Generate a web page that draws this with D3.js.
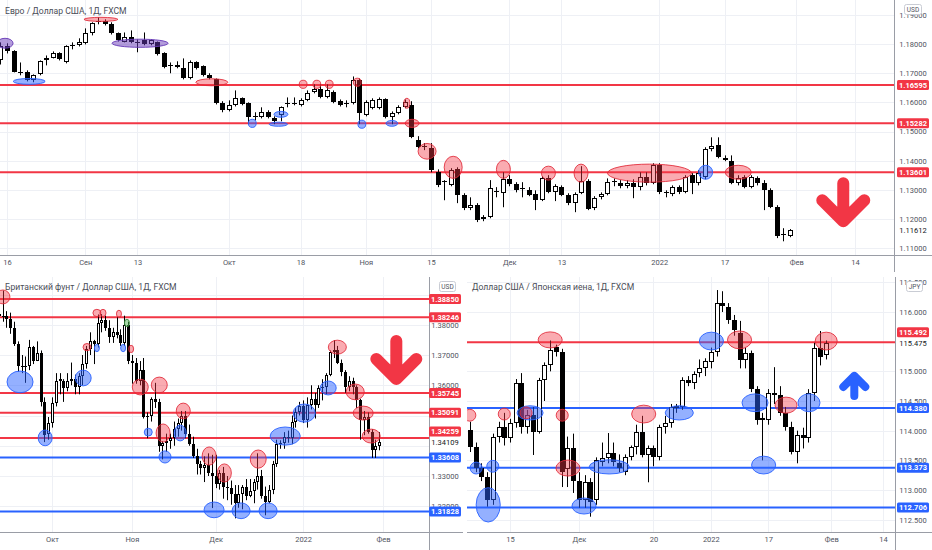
<!DOCTYPE html>
<html><head><meta charset="utf-8">
<script src="https://cdn.jsdelivr.net/npm/d3@7"></script>
<style>
html,body{margin:0;padding:0;background:#fff;}
svg{display:block;font-family:Roboto,"Noto Sans",sans-serif;}
</style></head><body>
<svg id="c" width="932" height="550"></svg>
<script>
// ================= DATA =================
const eurTitle = "Евро / Доллар США, 1Д, FXCM";
const gbpTitle = "Британский фунт / Доллар США, 1Д, FXCM";
const jpyTitle = "Доллар США / Японская иена, 1Д, FXCM";

// daily candles [open, high, low, close], one per trading day from the start date
const eurStart = "2021-08-13";
const eurOHLC = [
[1.1744,1.1806,1.1730,1.1792],[1.1792,1.1803,1.1768,1.1775],[1.1775,1.1779,1.1703,1.1706],[1.1706,1.1737,1.1693,1.1703],
[1.1703,1.1710,1.1672,1.1676],[1.1676,1.1696,1.1669,1.1693],[1.1696,1.1744,1.1693,1.1741],[1.1744,1.1761,1.1727,1.1751],
[1.1754,1.1775,1.1751,1.1768],[1.1768,1.1772,1.1744,1.1748],[1.1737,1.1796,1.1734,1.1792],[1.1792,1.1806,1.1782,1.1796],
[1.1796,1.1820,1.1792,1.1806],[1.1803,1.1854,1.1799,1.1837],[1.1837,1.1875,1.1830,1.1871],[1.1875,1.1892,1.1868,1.1878],
[1.1878,1.1885,1.1864,1.1868],[1.1868,1.1875,1.1833,1.1837],[1.1837,1.1840,1.1809,1.1813],[1.1809,1.1840,1.1806,1.1823],
[1.1823,1.1847,1.1803,1.1806],[1.1806,1.1816,1.1772,1.1809],[1.1813,1.1840,1.1796,1.1799],[1.1799,1.1816,1.1796,1.1813],
[1.1806,1.1809,1.1761,1.1765],[1.1768,1.1772,1.1717,1.1720],[1.1727,1.1737,1.1700,1.1724],[1.1727,1.1741,1.1717,1.1720],
[1.1717,1.1751,1.1679,1.1682],[1.1682,1.1744,1.1679,1.1737],[1.1737,1.1741,1.1713,1.1717],[1.1724,1.1727,1.1689,1.1693],
[1.1693,1.1700,1.1679,1.1682],[1.1679,1.1682,1.1593,1.1597],[1.1597,1.1604,1.1566,1.1573],[1.1573,1.1607,1.1569,1.1590],
[1.1590,1.1641,1.1586,1.1614],[1.1614,1.1617,1.1590,1.1593],[1.1597,1.1600,1.1528,1.1549],[1.1549,1.1566,1.1538,1.1552],
[1.1549,1.1583,1.1545,1.1566],[1.1566,1.1573,1.1545,1.1549],[1.1545,1.1552,1.1525,1.1535],[1.1556,1.1586,1.1535,1.1583],
[1.1597,1.1617,1.1583,1.1593],[1.1593,1.1617,1.1590,1.1597],[1.1590,1.1614,1.1586,1.1607],[1.1607,1.1641,1.1604,1.1631],
[1.1634,1.1662,1.1631,1.1645],[1.1645,1.1662,1.1614,1.1617],[1.1617,1.1662,1.1614,1.1641],[1.1634,1.1641,1.1597,1.1600],
[1.1604,1.1610,1.1586,1.1590],[1.1597,1.1607,1.1583,1.1593],[1.1597,1.1689,1.1593,1.1676],[1.1676,1.1682,1.1525,1.1562],
[1.1556,1.1607,1.1552,1.1600],[1.1580,1.1614,1.1576,1.1607],[1.1580,1.1617,1.1576,1.1610],[1.1610,1.1614,1.1545,1.1549],
[1.1549,1.1569,1.1525,1.1562],[1.1562,1.1590,1.1559,1.1583],[1.1583,1.1610,1.1580,1.1600],[1.1590,1.1604,1.1477,1.1480],
[1.1470,1.1484,1.1442,1.1446],[1.1446,1.1460,1.1436,1.1449],[1.1442,1.1460,1.1360,1.1367],[1.1360,1.1370,1.1309,1.1315],
[1.1326,1.1333,1.1264,1.1329],[1.1315,1.1374,1.1312,1.1367],[1.1370,1.1377,1.1254,1.1281],[1.1281,1.1288,1.1230,1.1237],
[1.1237,1.1274,1.1230,1.1247],[1.1247,1.1254,1.1189,1.1195],[1.1199,1.1213,1.1192,1.1206],[1.1206,1.1333,1.1202,1.1305],
[1.1291,1.1309,1.1274,1.1295],[1.1288,1.1360,1.1240,1.1336],[1.1336,1.1350,1.1312,1.1319],[1.1319,1.1326,1.1291,1.1298],
[1.1302,1.1326,1.1274,1.1305],[1.1298,1.1309,1.1278,1.1281],[1.1285,1.1298,1.1230,1.1264],[1.1264,1.1346,1.1261,1.1339],
[1.1339,1.1350,1.1288,1.1291],[1.1291,1.1319,1.1261,1.1312],[1.1309,1.1315,1.1278,1.1281],[1.1281,1.1288,1.1247,1.1254],
[1.1254,1.1291,1.1223,1.1285],[1.1288,1.1381,1.1285,1.1329],[1.1329,1.1336,1.1230,1.1233],[1.1237,1.1278,1.1230,1.1271],
[1.1274,1.1291,1.1267,1.1285],[1.1285,1.1339,1.1281,1.1326],[1.1326,1.1339,1.1312,1.1329],[1.1322,1.1333,1.1305,1.1312],
[1.1312,1.1333,1.1305,1.1322],[1.1322,1.1336,1.1271,1.1309],[1.1309,1.1360,1.1298,1.1343],[1.1343,1.1360,1.1315,1.1322],
[1.1322,1.1391,1.1319,1.1384],[1.1384,1.1391,1.1285,1.1291],[1.1291,1.1298,1.1274,1.1288],[1.1285,1.1315,1.1278,1.1309],
[1.1309,1.1315,1.1285,1.1291],[1.1291,1.1350,1.1288,1.1343],[1.1350,1.1357,1.1285,1.1322],[1.1322,1.1367,1.1315,1.1357],
[1.1343,1.1446,1.1336,1.1439],[1.1439,1.1480,1.1432,1.1449],[1.1453,1.1480,1.1408,1.1411],[1.1408,1.1418,1.1398,1.1401],
[1.1398,1.1418,1.1319,1.1322],[1.1322,1.1350,1.1315,1.1339],[1.1343,1.1350,1.1305,1.1309],[1.1309,1.1350,1.1305,1.1343],
[1.1339,1.1346,1.1315,1.1322],[1.1322,1.1333,1.1230,1.1298],[1.1298,1.1305,1.1237,1.1240],[1.1240,1.1247,1.1134,1.1140],
[1.1144,1.1168,1.1123,1.1147],[1.1140,1.1165,1.1137,1.11612]
];

const gbpStart = "2021-09-13";
const gbpOHLC = [
[1.3835,1.3850,1.3790,1.3830],[1.3830,1.3913,1.3810,1.3830],[1.3830,1.3845,1.3790,1.3820],[1.3820,1.3840,1.3770,1.3790],
[1.3790,1.3810,1.3730,1.3735],[1.3735,1.3745,1.3645,1.3665],[1.3665,1.3700,1.3640,1.3660],[1.3660,1.3695,1.3608,1.3665],
[1.3665,1.3750,1.3650,1.3725],[1.3725,1.3730,1.3670,1.3680],[1.3680,1.3745,1.3680,1.3705],[1.3705,1.3715,1.3530,1.3545],
[1.3545,1.3560,1.3412,1.3435],[1.3440,1.3495,1.3420,1.3475],
[1.3475,1.3560,1.3460,1.3540],[1.3540,1.3640,1.3530,1.3615],[1.3615,1.3640,1.3570,1.3620],[1.3615,1.3620,1.3545,1.3590],
[1.3590,1.3640,1.3580,1.3615],[1.3615,1.3675,1.3600,1.3620],[1.3620,1.3635,1.3570,1.3595],[1.3595,1.3640,1.3570,1.3630],
[1.3630,1.3700,1.3600,1.3670],[1.3670,1.3730,1.3655,1.3720],[1.3720,1.3775,1.3700,1.3745],[1.3745,1.3750,1.3670,1.3735],
[1.3735,1.3834,1.3725,1.3805],[1.3805,1.3835,1.3775,1.3815],[1.3815,1.3830,1.3780,1.3790],[1.3790,1.3815,1.3740,1.3760],
[1.3760,1.3790,1.3740,1.3775],[1.3775,1.3825,1.3755,1.3765],[1.3765,1.3785,1.3730,1.3740],[1.3740,1.3830,1.3730,1.3800],
[1.3800,1.3810,1.3670,1.3680],
[1.3680,1.3700,1.3605,1.3675],[1.3675,1.3690,1.3605,1.3615],[1.3615,1.3680,1.3600,1.3650],[1.3650,1.3690,1.3490,1.3495],
[1.3495,1.3510,1.3425,1.3500],[1.3500,1.3560,1.3480,1.3555],[1.3555,1.3608,1.3525,1.3545],[1.3545,1.3555,1.3380,1.3400],
[1.3400,1.3415,1.3355,1.3410],[1.3410,1.3440,1.3380,1.3415],[1.3415,1.3440,1.3390,1.3425],[1.3425,1.3480,1.3400,1.3455],
[1.3455,1.3490,1.3430,1.3475],[1.3475,1.3515,1.3450,1.3500],[1.3500,1.3515,1.3425,1.3440],[1.3440,1.3470,1.3400,1.3405],
[1.3405,1.3430,1.3360,1.3365],[1.3365,1.3390,1.3305,1.3340],[1.3340,1.3350,1.3305,1.3325],[1.3325,1.3365,1.3280,1.3335],
[1.3335,1.3375,1.3300,1.3310],[1.3310,1.3370,1.3194,1.3300],
[1.3300,1.3370,1.3260,1.3275],[1.3275,1.3320,1.3255,1.3310],[1.3310,1.3330,1.3225,1.3265],[1.3265,1.3300,1.3220,1.3260],
[1.3260,1.3285,1.3205,1.3240],[1.3240,1.3270,1.3160,1.3210],[1.3210,1.3270,1.3195,1.3240],[1.3240,1.3270,1.3190,1.3265],
[1.3265,1.3290,1.3220,1.3235],[1.3235,1.3290,1.3230,1.3250],[1.3250,1.3290,1.3210,1.3280],[1.3280,1.3375,1.3255,1.3300],
[1.3300,1.3320,1.3225,1.3235],[1.3235,1.3265,1.3170,1.3215],[1.3215,1.3270,1.3210,1.3255],[1.3255,1.3350,1.3240,1.3340],
[1.3340,1.3420,1.3330,1.3405],[1.3405,1.3418,1.3390,1.3410],[1.3410,1.3445,1.3390,1.3430],[1.3430,1.3450,1.3410,1.3425],
[1.3425,1.3500,1.3405,1.3480],[1.3480,1.3525,1.3460,1.3510],[1.3510,1.3545,1.3500,1.3530],
[1.3530,1.3550,1.3475,1.3485],[1.3485,1.3560,1.3460,1.3535],[1.3535,1.3600,1.3520,1.3555],[1.3555,1.3575,1.3490,1.3535],
[1.3535,1.3600,1.3525,1.3590],[1.3590,1.3620,1.3550,1.3595],[1.3595,1.3640,1.3570,1.3635],[1.3635,1.3715,1.3630,1.3710],
[1.3710,1.3749,1.3690,1.3715],[1.3715,1.3730,1.3670,1.3675],[1.3675,1.3685,1.3630,1.3645],[1.3645,1.3650,1.3575,1.3595],
[1.3595,1.3630,1.3580,1.3615],[1.3615,1.3625,1.3570,1.3595],[1.3595,1.3600,1.3525,1.3550],[1.3550,1.3555,1.3420,1.3485],
[1.3485,1.3515,1.3435,1.3495],[1.3495,1.3510,1.3440,1.3445],[1.3445,1.3455,1.3360,1.3385],[1.3385,1.3420,1.3360,1.3400],
[1.3400,1.3445,1.3385,1.34109]
];

const jpyStart = "2021-11-04";
const jpyOHLC = [
[114.01,114.15,113.64,113.72],[113.72,113.80,113.30,113.37],[113.37,113.45,113.15,113.22],[113.22,113.30,112.72,112.83],
[112.83,113.95,112.75,113.89],[113.89,114.15,113.80,114.06],[114.06,114.30,113.75,113.88],[113.88,114.20,113.80,114.13],
[114.13,114.87,114.05,114.80],[114.80,114.97,113.95,114.06],[114.06,114.35,113.95,114.26],[114.26,114.40,113.59,113.98],
[113.98,114.89,113.95,114.85],[114.85,115.15,114.50,115.10],[115.10,115.52,115.00,115.36],[115.41,115.45,115.25,115.33],
[115.33,115.38,113.05,113.30],[113.35,113.90,113.05,113.70],[113.70,113.95,112.95,113.15],
[113.15,113.30,112.70,112.83],[112.83,113.25,112.70,113.13],[113.13,113.20,112.55,112.80],[112.83,113.55,112.75,113.50],
[113.47,113.80,113.40,113.54],[113.54,113.96,113.45,113.62],[113.62,113.80,113.40,113.47],[113.45,113.60,113.30,113.37],
[113.30,113.60,113.25,113.55],[113.55,113.75,113.50,113.72],[113.72,114.10,113.60,113.98],[113.98,114.25,113.55,113.59],
[113.59,113.75,113.13,113.71],[113.71,113.75,113.40,113.55],[113.55,114.10,113.50,114.06],[114.06,114.25,113.95,114.13],
[114.13,114.45,114.05,114.40],[114.38,114.45,114.30,114.42],[114.40,114.90,114.35,114.85],[114.85,114.92,114.75,114.80],
[114.80,115.00,114.70,114.95],[114.98,115.20,114.90,115.05],[115.05,115.22,114.92,115.18],
[115.15,115.40,115.05,115.33],[115.33,116.37,115.25,116.15],[116.15,116.35,116.00,116.10],[116.08,116.15,115.80,115.87],
[115.87,115.95,115.60,115.70],[115.65,115.85,115.05,115.19],[115.19,115.40,115.05,115.31],[115.31,115.35,114.65,114.70],
[114.70,114.75,114.10,114.18],[114.18,114.30,113.50,114.22],[114.18,114.70,114.10,114.63],[114.63,115.07,114.45,114.60],
[114.60,114.75,114.25,114.30],[114.30,114.40,114.00,114.06],[114.06,114.15,113.60,113.64],[113.64,114.00,113.45,113.93],
[113.93,114.05,113.70,113.88],[113.88,114.70,113.80,114.63],[114.63,115.48,114.50,115.39],[115.39,115.68,115.10,115.24],
[115.27,115.52,115.20,115.475]
];

// horizontal levels
const eurResistance = [1.16595, 1.15282, 1.13601];
const eurSupport = [];
const gbpResistance = [1.38850, 1.38246, 1.35745, 1.35091, 1.34259];
const gbpSupport = [1.33608, 1.31828];
const jpyResistance = [115.492];
const jpySupport = [114.380, 113.373, 112.706];

// price-axis tick labels
const eurPriceTicks = [1.11, 1.12, 1.13, 1.14, 1.15, 1.16, 1.17, 1.18, 1.19];
const gbpPriceTicks = [1.32, 1.33, 1.34, 1.35, 1.36, 1.37, 1.38, 1.39];
const jpyPriceTicks = [112.5, 113, 113.5, 114, 114.5, 115, 115.5, 116, 116.5];

// time-axis tick labels
const eurTimeTicks = [["2021-08-16","16"],["2021-09-01","Сен"],["2021-09-13","13"],["2021-10-01","Окт"],["2021-10-18","18"],
  ["2021-11-01","Ноя"],["2021-11-15","15"],["2021-12-01","Дек"],["2021-12-13","13"],["2022-01-03","2022"],
  ["2022-01-17","17"],["2022-02-01","Фев"],["2022-02-14","14"]];
const gbpTimeTicks = [["2021-10-01","Окт"],["2021-11-01","Ноя"],["2021-12-01","Дек"],["2022-01-03","2022"],["2022-02-01","Фев"]];
const jpyTimeTicks = [["2021-11-15","15"],["2021-12-01","Дек"],["2021-12-20","20"],["2022-01-03","2022"],
  ["2022-01-17","17"],["2022-02-01","Фев"],["2022-02-14","14"]];

// highlighted zones: [bar index (16 Aug 2021 = 0), price, half-width in bars, half-height in price, kind]
const eurZones = [
[-0.3,1.1803,1.23,0.0017,"p"],[3.4,1.1672,2.45,0.0010,"b"],[14.4,1.1885,2.6,0.0007,"r"],[20.4,1.1803,4.3,0.0014,"p"],
[31.4,1.1669,2.45,0.0012,"r"],[37.6,1.1528,0.6,0.0014,"b"],[42,1.1559,1.07,0.0010,"b"],[41.6,1.1525,1.4,0.0007,"b"],
[45.4,1.1662,0.6,0.0014,"r"],[47.5,1.1662,0.6,0.0014,"r"],[49.4,1.1662,0.6,0.0014,"r"],[53.7,1.1669,0.6,0.0014,"r"],
[54.4,1.1525,0.6,0.0014,"b"],[59,1.1528,0.9,0.0010,"b"],[61.3,1.1597,0.46,0.0017,"r"],[62.1,1.1528,1.07,0.0014,"r"],
[64.4,1.1432,1.38,0.0027,"r"],[68.4,1.1377,1.38,0.0038,"r"],[76.1,1.1370,1.07,0.0031,"r"],[83,1.1357,1.07,0.0024,"r"],
[88,1.1357,1.07,0.0031,"r"],[98.5,1.1357,6.44,0.0031,"r"],[107.1,1.1360,1.07,0.0024,"b"],[112.1,1.1360,2.0,0.0024,"r"]
];
const gbpZones = [
[21.1,1.3892,1.84,0.0023,"r"],[45.8,1.3839,1.05,0.0012,"r"],[47.4,1.3839,0.8,0.0012,"r"],[51.6,1.3836,0.66,0.0012,"r"],
[53.7,1.3806,0.66,0.0012,"g"],[43.2,1.3726,1.05,0.0012,"r"],[45.8,1.3723,0.66,0.0012,"b"],[52.7,1.3723,0.66,0.0012,"b"],
[54.8,1.3720,0.66,0.0012,"r"],[25.6,1.3611,3.42,0.0036,"b"],[42.2,1.3624,2.1,0.0026,"b"],[57.2,1.3594,2.1,0.0026,"r"],
[62.2,1.3601,2.1,0.0026,"r"],[68.5,1.3515,1.84,0.0026,"r"],[32.2,1.3426,1.84,0.0026,"b"],[59.3,1.3445,1.05,0.0013,"b"],
[63.2,1.3442,1.84,0.0030,"r"],[67.7,1.3442,1.58,0.0026,"b"],[63.7,1.3363,1.58,0.0020,"b"],[75.3,1.3366,1.84,0.0030,"r"],
[79.3,1.3310,1.84,0.0030,"r"],[88.2,1.3356,2.1,0.0030,"r"],[95.3,1.3432,3.95,0.0030,"b"],[100.3,1.3508,2.9,0.0030,"b"],
[76.6,1.3188,2.63,0.0026,"b"],[83.7,1.3185,2.37,0.0026,"b"],[90.8,1.3185,2.37,0.0026,"b"],[106.6,1.3591,2.1,0.0023,"b"],
[109,1.3726,2.37,0.0023,"r"],[113.7,1.3578,2.37,0.0026,"r"],[115.8,1.3508,2.63,0.0023,"r"],[117.9,1.3432,2.37,0.0023,"r"]
];
const jpyZones = [
[59.1,113.37,1.05,0.10,"b"],[61.2,112.75,2.1,0.29,"b"],[62,113.40,1.05,0.10,"b"],[58,114.26,1.05,0.10,"r"],
[64,114.28,1.05,0.10,"r"],[68.5,114.30,2.27,0.12,"b"],[67.8,114.30,1.05,0.10,"r"],[72,115.53,2.1,0.135,"r"],
[74.1,114.26,1.05,0.10,"r"],[75.1,113.37,2.1,0.135,"r"],[77.9,112.73,2.1,0.135,"b"],[82.3,113.39,3.5,0.12,"b"],
[88.3,114.28,2.1,0.15,"r"],[94.5,114.30,2.45,0.12,"b"],[100.1,115.51,2.1,0.15,"b"],[105,115.53,2.1,0.15,"r"],
[107.7,114.47,2.27,0.15,"b"],[109.2,113.42,2.1,0.15,"b"],[113.1,114.43,1.92,0.135,"r"],[117.1,114.47,1.92,0.15,"b"],
[120.1,115.51,1.92,0.15,"r"]
];

// direction arrows: [bar index, price at the tip, direction]
const eurArrow = [128.2, 1.1171, "down"];
const gbpArrow = [124.5, 1.3601, "down"];
const jpyArrow = [125, 114.99, "up"];

// ================= RENDER =================
const RED = "#f23645", BLUE = "#2962ff";
const zoneFill = {r:"rgba(242,54,69,0.42)", b:"rgba(41,98,255,0.5)", p:"rgba(103,58,183,0.5)", g:"rgba(76,175,80,0.5)"};
const zoneStroke = {r:"rgba(225,40,55,0.85)", b:"rgba(41,98,255,0.9)", p:"rgba(103,58,183,0.9)", g:"rgba(56,142,60,0.9)"};

const dfmt = d3.timeFormat("%Y-%m-%d");
const tradingDays = d3.timeDay.range(new Date(2021,7,13), new Date(2022,1,20)).filter(d => d.getDay() % 6 !== 0);
const idxOf = new Map(tradingDays.map((d,k) => [dfmt(d), k - 1]));

const svg = d3.select("#c");
const defs = svg.append("defs");

const panels = [
 {id:"eur", title:eurTitle, ohlc:eurOHLC, start:eurStart, res:eurResistance, sup:eurSupport, zones:eurZones, arrow:eurArrow,
  priceTicks:eurPriceTicks, timeTicks:eurTimeTicks, fmt:d3.format(".5f"),
  plot:{x0:0,y0:0,x1:894,y1:255}, axisCx:913, vLine:[894,0,272], hLine:[0,255,932],
  xA:["2021-08-16","2022-02-14"], xP:[7,855], yA:[1.11,1.19], yP:[248,15],
  bw:5, titleXY:[5,14], cur:"USD", curBox:[904,4,17,10], arrowStyle:{h:50,a:21,w:12,c:RED}},
 {id:"gbp", title:gbpTitle, ohlc:gbpOHLC, start:gbpStart, res:gbpResistance, sup:gbpSupport, zones:gbpZones, arrow:gbpArrow,
  priceTicks:gbpPriceTicks, timeTicks:gbpTimeTicks, fmt:d3.format(".5f"),
  plot:{x0:0,y0:277,x1:429,y1:532}, axisCx:445, vLine:[429,277,550], hLine:[0,532,463],
  xA:["2021-10-01","2022-02-01"], xP:[52,383], yA:[1.33,1.37], yP:[476,355],
  bw:3, titleXY:[5,290], cur:"USD", curBox:[439,281,16,10], arrowStyle:{h:50,a:20,w:12,c:RED}},
 {id:"jpy", title:jpyTitle, ohlc:jpyOHLC, start:jpyStart, res:jpyResistance, sup:jpySupport, zones:jpyZones, arrow:jpyArrow,
  priceTicks:jpyPriceTicks, timeTicks:jpyTimeTicks, fmt:d3.format(".3f"),
  plot:{x0:467,y0:277,x1:895,y1:532}, axisCx:913, vLine:[895,277,550], hLine:[467,532,932],
  xA:["2021-11-15","2022-02-14"], xP:[510,883], yA:[113,116], yP:[490,312],
  bw:5, titleXY:[472,290], cur:"JPY", curBox:[906,281,16,10], arrowStyle:{h:28,a:11,w:8,c:BLUE}}
];

panels.forEach(p => {
  const x = d3.scaleLinear().domain(p.xA.map(d => idxOf.get(d))).range(p.xP);
  const y = d3.scaleLinear().domain(p.yA).range(p.yP);
  const barW = x(1) - x(0);
  const {x0,y0,x1,y1} = p.plot;
  const g = svg.append("g");

  defs.append("clipPath").attr("id","clip-"+p.id).append("rect")
    .attr("x",x0).attr("y",y0).attr("width",x1-x0).attr("height",y1-y0);

  // grid
  const grid = g.append("g").attr("clip-path","url(#clip-"+p.id+")");
  grid.selectAll("line.gv").data(p.timeTicks).join("line")
    .attr("x1",d=>Math.round(x(idxOf.get(d[0])))+0.5).attr("x2",d=>Math.round(x(idxOf.get(d[0])))+0.5)
    .attr("y1",y0).attr("y2",y1).attr("stroke","#eef0f5").attr("stroke-width",1);
  grid.selectAll("line.gh").data(p.priceTicks).join("line")
    .attr("x1",x0).attr("x2",x1)
    .attr("y1",d=>Math.round(y(d))+0.5).attr("y2",d=>Math.round(y(d))+0.5)
    .attr("stroke","#eef0f5").attr("stroke-width",1);

  const plotG = g.append("g").attr("clip-path","url(#clip-"+p.id+")");

  // level lines
  const levels = p.res.map(v=>({v,c:RED})).concat(p.sup.map(v=>({v,c:BLUE})));
  plotG.selectAll("line.lvl").data(levels).join("line")
    .attr("x1",x0).attr("x2",x1).attr("y1",d=>y(d.v)).attr("y2",d=>y(d.v))
    .attr("stroke",d=>d.c).attr("stroke-width",2);

  // candles
  const startIdx = idxOf.get(p.start);
  const data = p.ohlc.map((d,k)=>({i:startIdx+k,o:d[0],h:d[1],l:d[2],c:d[3]}));
  const cx = d => Math.round(x(d.i));
  plotG.selectAll("line.wick").data(data).join("line")
    .attr("x1",d=>cx(d)+0.5).attr("x2",d=>cx(d)+0.5)
    .attr("y1",d=>y(d.h)).attr("y2",d=>y(d.l))
    .attr("stroke","#000").attr("stroke-width",1);
  const half = Math.floor(p.bw/2);
  const bodyTop = d => Math.round(y(Math.max(d.o,d.c)));
  const bodyH = d => Math.max(1, Math.round(y(Math.min(d.o,d.c))) - bodyTop(d));
  plotG.selectAll("rect.body").data(data).join("rect")
    .attr("x",d=>cx(d)-half).attr("width",p.bw)
    .attr("y",bodyTop).attr("height",bodyH).attr("fill","#000");
  plotG.selectAll("rect.inner").data(data.filter(d=>d.c>d.o && bodyH(d)>2)).join("rect")
    .attr("x",d=>cx(d)-half+1).attr("width",p.bw-2)
    .attr("y",d=>bodyTop(d)+1).attr("height",d=>bodyH(d)-2).attr("fill","#fff");

  // zones
  plotG.selectAll("ellipse").data(p.zones).join("ellipse")
    .attr("cx",d=>x(d[0])).attr("cy",d=>y(d[1]))
    .attr("rx",d=>d[2]*barW).attr("ry",d=>Math.abs(y(d[1]+d[3])-y(d[1])))
    .attr("fill",d=>zoneFill[d[4]]).attr("stroke",d=>zoneStroke[d[4]]).attr("stroke-width",1);

  // arrow
  const s = p.arrowStyle, [ai, ap, dir] = p.arrow;
  const ax = x(ai), ay = y(ap), sg = dir==="down" ? -1 : 1;
  const tipY = ay + sg*s.w/2;
  const path = d3.path();
  path.moveTo(ax, ay + sg*(s.h - s.w/2)); path.lineTo(ax, tipY);
  path.moveTo(ax - s.a, tipY + sg*s.a); path.lineTo(ax, tipY); path.lineTo(ax + s.a, tipY + sg*s.a);
  g.append("path").attr("d",path.toString()).attr("fill","none").attr("stroke",s.c)
    .attr("stroke-width",s.w).attr("stroke-linecap","round").attr("stroke-linejoin","round");

  // title
  g.append("text").attr("x",p.titleXY[0]).attr("y",p.titleXY[1]).text(p.title)
    .attr("font-size",8.6).attr("fill","#4a4d57");

  // axes lines
  g.append("line").attr("x1",p.hLine[0]).attr("x2",p.hLine[2]).attr("y1",p.hLine[1]+0.5).attr("y2",p.hLine[1]+0.5)
    .attr("stroke","#9a9da6").attr("stroke-width",1);
  g.append("line").attr("x1",p.vLine[0]+0.5).attr("x2",p.vLine[0]+0.5).attr("y1",p.vLine[1]).attr("y2",p.vLine[2])
    .attr("stroke","#9a9da6").attr("stroke-width",1);

  // time axis
  const tmap = new Map(p.timeTicks.map(d=>[idxOf.get(d[0]), d[1]]));
  const tAxis = d3.axisBottom(x).tickValues([...tmap.keys()]).tickFormat(v=>tmap.get(v)).tickSize(0).tickPadding(5);
  const tg = g.append("g").attr("transform",`translate(0,${p.hLine[1]})`).call(tAxis);
  tg.select(".domain").remove();
  tg.selectAll("text").attr("font-size",7.5).attr("fill","#50535e").attr("font-family","Roboto,'Noto Sans',sans-serif");

  // price axis (tick labels covered by a price label are not drawn, as in the source)
  const lastClose = data[data.length-1].c;
  const lastY = y(lastClose);
  const ticks = p.priceTicks.filter(v => Math.abs(y(v)-lastY) > 6 && levels.every(l => Math.abs(y(v)-y(l.v)) >= 5));
  const pAxis = d3.axisRight(y).tickValues(ticks).tickFormat(p.fmt).tickSize(0).tickPadding(0);
  const pg = g.append("g").attr("transform",`translate(${p.axisCx},0)`).call(pAxis);
  pg.select(".domain").remove();
  pg.selectAll("text").attr("text-anchor","middle").attr("x",0).attr("font-size",7.5).attr("fill","#50535e")
    .attr("font-family","Roboto,'Noto Sans',sans-serif");

  // last price text
  g.append("text").attr("x",p.axisCx).attr("y",lastY).attr("dy","0.35em").attr("text-anchor","middle")
    .attr("font-size",7.5).attr("fill","#131722").text(p.fmt(lastClose));

  // level labels
  const lab = g.append("g");
  levels.forEach(d => {
    let ly = y(d.v);
    if (Math.abs(ly - lastY) < 11) ly = lastY + (ly <= lastY ? -11 : 11);
    lab.append("rect").attr("x",p.axisCx-16).attr("y",ly-5).attr("width",32).attr("height",10)
      .attr("rx",1.5).attr("fill",d.c);
    lab.append("text").attr("x",p.axisCx).attr("y",ly).attr("dy","0.35em").attr("text-anchor","middle")
      .attr("font-size",7.5).attr("font-weight","bold").attr("fill","#fff").text(p.fmt(d.v));
  });

  // currency box
  const [bx,by,bwid,bh] = p.curBox;
  g.append("rect").attr("x",bx+0.5).attr("y",by+0.5).attr("width",bwid).attr("height",bh).attr("rx",2)
    .attr("fill","#fff").attr("stroke","#c9ccd4");
  g.append("text").attr("x",bx+0.5+bwid/2).attr("y",by+0.5+bh/2).attr("dy","0.35em").attr("text-anchor","middle")
    .attr("font-size",6.5).attr("fill","#50535e").text(p.cur);
});
</script>
</body></html>
